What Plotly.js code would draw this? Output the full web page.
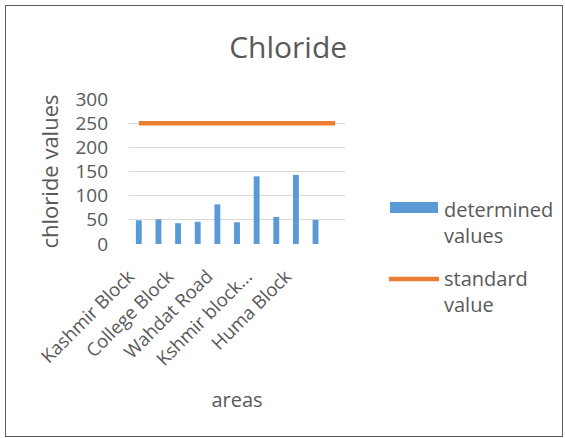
<!DOCTYPE html>
<html>
<head>
<meta charset="utf-8">
<script src="https://cdn.plot.ly/plotly-3.0.1.min.js"></script>
<style>
  html, body { margin: 0; padding: 0; background: #fff; }
  #wrap { position: relative; width: 565px; height: 438px; }
  #chart { position: absolute; left: 0; top: 0; width: 565px; height: 438px; }
  #frame { position: absolute; left: 5px; top: 5px; width: 558px; height: 432px;
           border: 1.5px solid #5a5a5a; pointer-events: none; box-sizing: border-box; }
</style>
</head>
<body>
<div id="wrap">
  <div id="chart"></div>
  <div id="frame"></div>
</div>
<script>
// Category labels (only every other label is visible in the reference; the rest are unreadable)
const categories = ["Kashmir Block", "", "College Block", "", "Wahdat Road", "", "Kshmir block...", "", "Huma Block", "", ""];
// Determined chloride values per area
const determinedValues = [49, 51, 43, 46, 82, 45, 140, 56, 143, 50, null];
// Standard value
const standardValues = [250, 250, 250, 250, 250, 250, 250, 250, 250, 250, 250];
const yTicks = [0, 50, 100, 150, 200, 250, 300];

const xIdx = categories.map((_, i) => i + 1);
const tickvals = xIdx.filter((_, i) => categories[i] !== "");
const ticktext = categories.filter(c => c !== "");

const grey = "#595959";
const font = "'Open Sans', sans-serif";

const traces = [
  {
    type: "bar", name: "determined values", x: xIdx, y: determinedValues,
    marker: { color: "#5b9bd5" }, width: 0.3, showlegend: false
  },
  {
    type: "scatter", mode: "lines", name: "standard value", x: xIdx, y: standardValues,
    line: { color: "#ed7d31", width: 4.5 }, showlegend: false
  }
];

const L = 129, R = 220, T = 99, B = 194;
const layout = {
  width: 565, height: 438,
  margin: { l: L, r: R, t: T, b: B },
  paper_bgcolor: "#fff", plot_bgcolor: "#fff",
  showlegend: false,
  font: { family: font, color: grey },
  title: { text: "Chloride", font: { family: font, size: 30, color: grey }, x: 0.51, xanchor: "center", y: 0.892, yanchor: "middle" },
  xaxis: {
    range: [0.5, 11.5], tickmode: "array", tickvals: tickvals, ticktext: ticktext,
    tickangle: -45, tickfont: { size: 18.5, color: grey }, showgrid: false, zeroline: false,
    showline: false, ticks: "", ticklabelstandoff: 17, ticklabelshift: -10,
    title: { text: "areas", font: { size: 20, color: grey }, standoff: 23 }
  },
  yaxis: {
    range: [0, 300], tickmode: "array", tickvals: yTicks, showgrid: true, gridcolor: "#d9d9d9",
    gridwidth: 1, zeroline: false, showline: false, ticks: "", ticklabelstandoff: 20,
    tickfont: { size: 19, color: grey },
    title: { text: "chloride values", font: { size: 22, color: grey }, standoff: 10 }
  }
};

// custom legend placement (pixel -> paper conversion)
const pw = 565 - L - R, ph = 438 - T - B;
const px = x => (x - L) / pw;
const py = y => (438 - B - y) / ph;
layout.shapes = [
  { type: "rect", xref: "paper", yref: "paper", x0: px(390), x1: px(438), y0: py(202), y1: py(213),
    fillcolor: "#5b9bd5", line: { width: 0 } },
  { type: "line", xref: "paper", yref: "paper", x0: px(389), x1: px(439), y0: py(279), y1: py(279),
    line: { color: "#ed7d31", width: 4.5 } }
];
layout.annotations = [
  { xref: "paper", yref: "paper", x: px(442), y: py(222), xanchor: "left", yanchor: "middle", align: "left",
    text: "determined<br>values", showarrow: false, font: { size: 20, color: grey } },
  { xref: "paper", yref: "paper", x: px(442), y: py(291), xanchor: "left", yanchor: "middle", align: "left",
    text: "standard<br>value", showarrow: false, font: { size: 20, color: grey } }
];

Plotly.newPlot("chart", traces, layout, { displayModeBar: false, staticPlot: true });
</script>
</body>
</html>
